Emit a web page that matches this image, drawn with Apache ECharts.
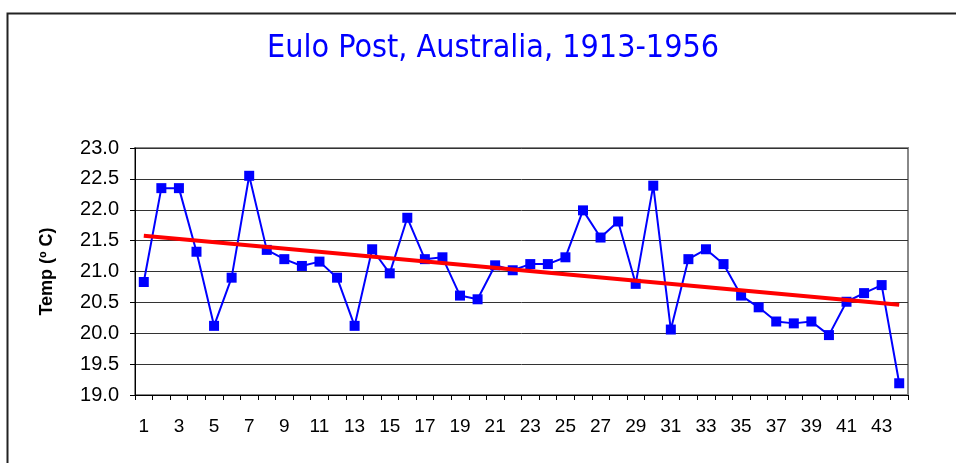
<!DOCTYPE html>
<html>
<head>
<meta charset="utf-8">
<script src="https://cdn.jsdelivr.net/npm/echarts@6/dist/echarts.min.js"></script>
<style>
html,body{margin:0;padding:0;background:#fff;}
#main{width:956px;height:463px;}
</style>
</head>
<body>
<div id="main"></div>
<script>
// values
var years = [];
for (var i = 1; i <= 44; i++) { years.push(String(i)); }
var temps = [20.83, 22.35, 22.35, 21.32, 20.12, 20.90, 22.55, 21.35, 21.20, 21.09,
             21.16, 20.90, 20.12, 21.36, 20.97, 21.87, 21.20, 21.23, 20.61, 20.55,
             21.10, 21.02, 21.12, 21.12, 21.23, 21.99, 21.55, 21.81, 20.80, 22.39,
             20.06, 21.20, 21.36, 21.12, 20.61, 20.42, 20.19, 20.16, 20.19, 19.97,
             20.51, 20.65, 20.78, 19.19];
var trendStart = 21.58;   // trend line at point 1
var trendEnd = 20.46;     // trend line at point 44
var yTicks = ['19.0','19.5','20.0','20.5','21.0','21.5','22.0','22.5','23.0'];

// trend: only the two end values, the line joins them
var trend = [];
for (var k = 0; k < years.length; k++) { trend.push(null); }
trend[0] = trendStart;
trend[years.length - 1] = trendEnd;

var myChart = echarts.init(document.getElementById('main'));
myChart.setOption({
    animation: false,
    backgroundColor: '#fff',
    title: {
        text: 'Eulo Post, Australia, 1913-1956',
        left: 262,
        top: 28,
        textStyle: {
            color: '#0000ff',
            fontSize: 32,
            fontWeight: 'normal',
            fontFamily: "'Comic Sans MS', 'DejaVu Sans Condensed', sans-serif"
        }
    },
    graphic: [{
        type: 'rect',
        left: 5, top: 11,
        shape: { width: 1000, height: 500 },
        style: { fill: 'none', stroke: '#222', lineWidth: 2 }
    }],
    grid: {
        left: 135, right: 48, top: 148, bottom: 68,
        show: true,
        borderColor: '#888',
        borderWidth: 2
    },
    xAxis: {
        type: 'category',
        data: years,
        boundaryGap: true,
        axisLine: { lineStyle: { color: '#000', width: 1 } },
        axisTick: { show: true, interval: 0, length: 5, inside: false, lineStyle: { color: '#000' } },
        axisLabel: {
            interval: 1,
            margin: 22,
            color: '#000',
            fontSize: 19,
            fontFamily: "'Liberation Sans', Arial, sans-serif"
        },
        splitLine: { show: false }
    },
    yAxis: {
        type: 'value',
        min: 19, max: 23, interval: 0.5,
        name: 'Temp (º C)',
        nameLocation: 'middle',
        nameGap: 79,
        nameTextStyle: {
            color: '#000', fontSize: 18, fontWeight: 'bold',
            fontFamily: "'Liberation Sans', Arial, sans-serif"
        },
        axisLine: { show: true, lineStyle: { color: '#000', width: 1 } },
        axisTick: { show: true, length: 5, lineStyle: { color: '#000' } },
        axisLabel: {
            margin: 16,
            color: '#000',
            fontSize: 20,
            fontFamily: "'Liberation Sans', Arial, sans-serif",
            formatter: function (v) { return yTicks[Math.round((v - 19) / 0.5)]; }
        },
        splitLine: { show: true, lineStyle: { color: '#333', width: 1 } }
    },
    series: [
        {
            name: 'Temp',
            type: 'line',
            data: temps,
            symbol: 'rect',
            symbolSize: 10,
            itemStyle: { color: '#0000ff' },
            lineStyle: { color: '#0000ff', width: 2 },
            z: 3
        },
        {
            name: 'Trend',
            type: 'line',
            data: trend,
            connectNulls: true,
            symbol: 'none',
            lineStyle: { color: '#ff0000', width: 4 },
            z: 4
        }
    ]
});
</script>
</body>
</html>
